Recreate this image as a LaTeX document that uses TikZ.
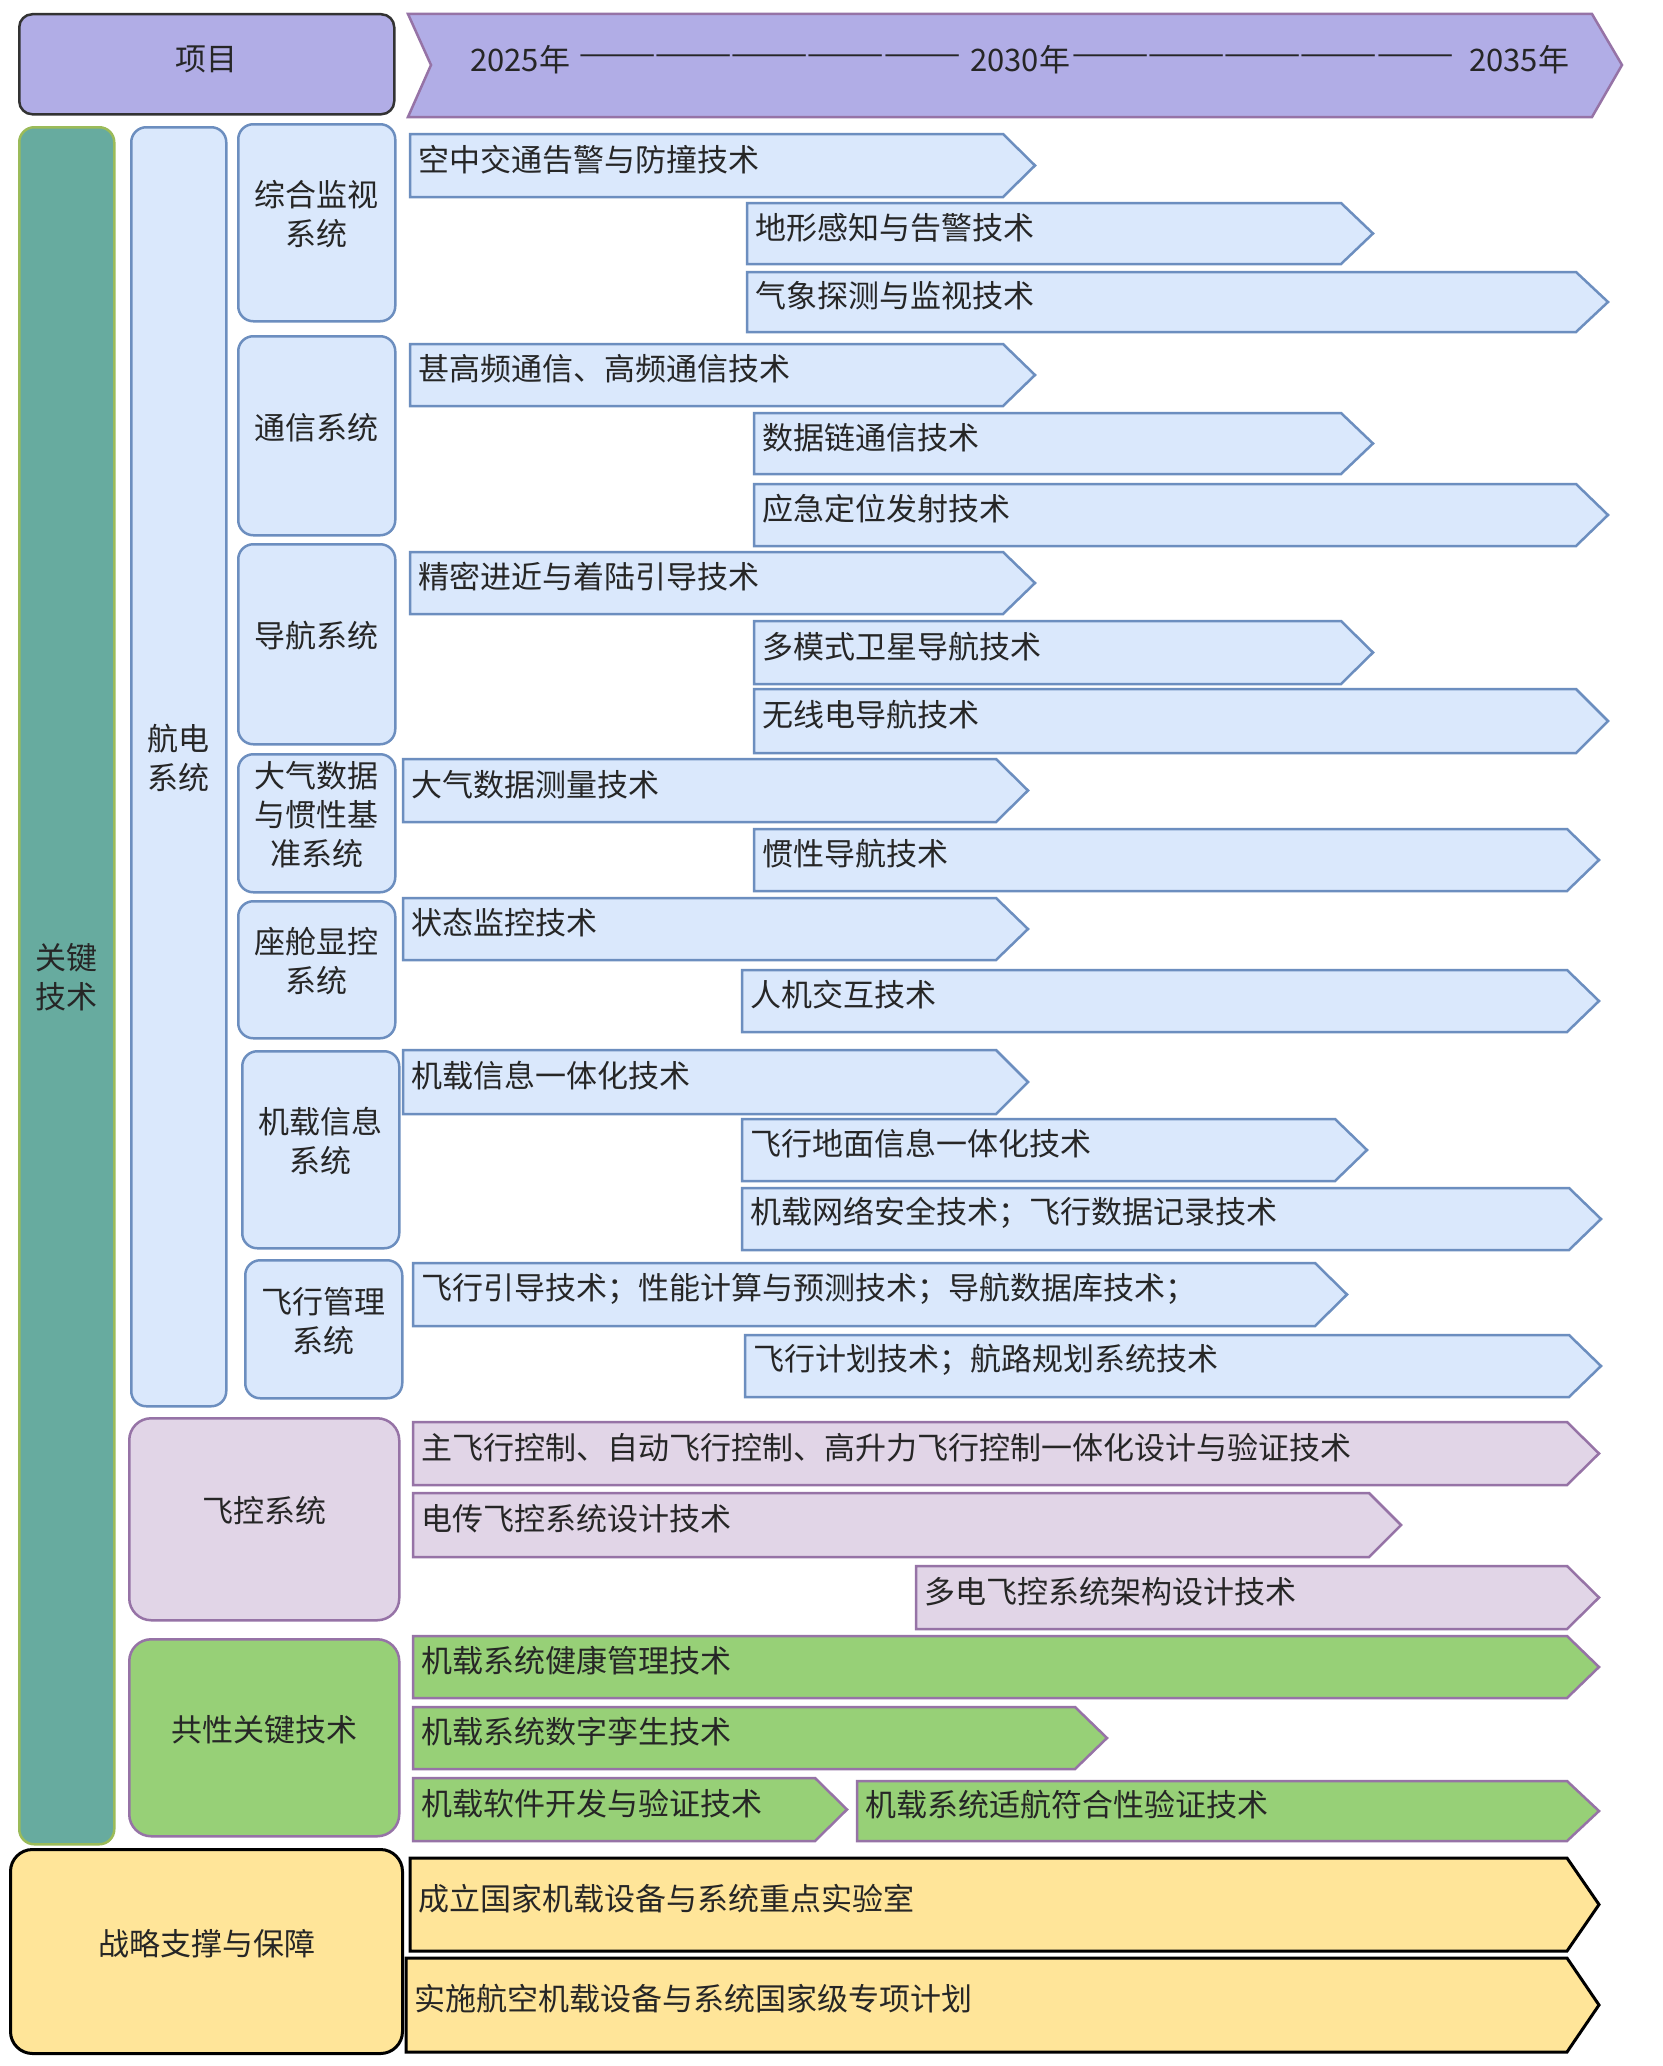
\documentclass[tikz,border=0pt]{standalone}
\usepackage{fontspec}
\setmainfont{Noto Sans CJK SC}
\usepackage{xcolor}

\definecolor{itemfill}{HTML}{B1ADE6}
\definecolor{itemline}{HTML}{333333}
\definecolor{keyfill}{HTML}{67AB9F}
\definecolor{keyline}{HTML}{9BBB59}
\definecolor{bluefill}{HTML}{DAE8FC}
\definecolor{blueline}{HTML}{6C8EBF}
\definecolor{purpfill}{HTML}{E1D5E7}
\definecolor{purpline}{HTML}{9673A6}
\definecolor{greenfill}{HTML}{97D077}
\definecolor{yellowfill}{HTML}{FFE599}

% technology bar: style, name, left x, tip x, top y, bottom y, text
\newcommand{\techbar}[7]{%
  \draw[#1] (#3,#5) -- (#4-32,#5) -- (#4,{(#5+#6)/2}) -- (#4-32,#6) -- (#3,#6) -- cycle;
  \node[techtext] (#2) at (#3+8,{(#5+#6)/2-6}) {#7};
}

\begin{document}
\begin{tikzpicture}[x=1pt, y=-1pt]
    \tikzstyle{box}        = [rectangle, rounded corners=15pt, line width=2.5pt, align=center, anchor=north west, inner sep=0pt, text depth=19pt, text=black!85, font=\fontsize{31}{39}\selectfont]
    \tikzstyle{itembox}    = [box, rounded corners=13pt, text depth=12pt, fill=itemfill, draw=itemline]
    \tikzstyle{keybox}     = [box, fill=keyfill, draw=keyline]
    \tikzstyle{avibox}     = [box, fill=bluefill, draw=blueline]
    \tikzstyle{fcsbox}     = [box, rounded corners=22pt, fill=purpfill, draw=purpline]
    \tikzstyle{commonbox}  = [box, rounded corners=22pt, fill=greenfill, draw=purpline]
    \tikzstyle{supportbox} = [box, rounded corners=22pt, fill=yellowfill, draw=black, line width=3pt]
    \tikzstyle{bluebar}    = [fill=bluefill, draw=blueline, line width=2.5pt]
    \tikzstyle{purpbar}    = [fill=purpfill, draw=purpline, line width=2.5pt]
    \tikzstyle{greenbar}   = [fill=greenfill, draw=purpline, line width=2.5pt]
    \tikzstyle{yellowbar}  = [fill=yellowfill, draw=black, line width=3pt]
    \tikzstyle{techtext}   = [anchor=west, inner sep=0pt, text=black!85, font=\fontsize{31}{39}\selectfont]

    \fill[white] (0,0) rectangle (1662,2066);
    \useasboundingbox (0,0) rectangle (1662,2066);

    % Header
    \node[itembox, minimum width=375pt, minimum height=100pt] (item) at (18,13) {项目};
    \draw[fill=itemfill, draw=purpline, line width=2.5pt] (408,14) -- (1592,14) -- (1622,65) -- (1592,117) -- (408,117) -- (431,65) -- cycle;
    \node[techtext] (y2025) at (470,60) {2025年};
    \node[techtext] (dash1) at (579,60) {———————————————};
    \node[techtext] (y2030) at (970,60) {2030年};
    \node[techtext] (dash2) at (1072,60) {———————————————};
    \node[techtext] (y2035) at (1469,60) {2035年};

    % Left columns
    \node[keybox, minimum width=95pt, minimum height=1717pt] (key) at (18,126) {关键\\技术};
    \node[avibox, minimum width=95pt, minimum height=1279pt] (avionics) at (130,126) {航电\\系统};
    \node[avibox, minimum width=157pt, minimum height=197pt] (surv) at (237,123) {综合监视\\系统};
    \node[avibox, minimum width=157pt, minimum height=199pt] (comm) at (237,335) {通信系统};
    \node[avibox, minimum width=157pt, minimum height=200pt] (nav) at (237,543) {导航系统};
    \node[avibox, minimum width=157pt, minimum height=138pt] (adirs) at (237,753) {大气数据\\与惯性基\\准系统};
    \node[avibox, minimum width=157pt, minimum height=137pt] (cockpit) at (237,900) {座舱显控\\系统};
    \node[avibox, minimum width=157pt, minimum height=197pt] (infosys) at (241,1050) {机载信息\\系统};
    \node[avibox, minimum width=157pt, minimum height=138pt] (fms) at (244,1259) {飞行管理\\系统};
    \node[fcsbox, minimum width=270pt, minimum height=202pt] (fcs) at (128,1417) {飞控系统};
    \node[commonbox, minimum width=270pt, minimum height=197pt] (common) at (128,1638) {共性关键技术};
    \node[supportbox, minimum width=392pt, minimum height=204pt] (support) at (9,1848) {战略支撑与保障};

    % Technology bars
    \techbar{bluebar}{tcas}{410}{1035}{134}{197}{空中交通告警与防撞技术}
    \techbar{bluebar}{taws}{747}{1373}{203}{264}{地形感知与告警技术}
    \techbar{bluebar}{wxr}{747}{1608}{272}{332}{气象探测与监视技术}
    \techbar{bluebar}{vhf}{410}{1035}{344}{406}{甚高频通信、高频通信技术}
    \techbar{bluebar}{dlink}{754}{1373}{413}{474}{数据链通信技术}
    \techbar{bluebar}{elt}{754}{1608}{484}{546}{应急定位发射技术}
    \techbar{bluebar}{gls}{410}{1035}{552}{614}{精密进近与着陆引导技术}
    \techbar{bluebar}{gnss}{754}{1373}{621}{684}{多模式卫星导航技术}
    \techbar{bluebar}{radnav}{754}{1608}{689}{753}{无线电导航技术}
    \techbar{bluebar}{adm}{403}{1028}{759}{822}{大气数据测量技术}
    \techbar{bluebar}{ins}{754}{1599}{829}{891}{惯性导航技术}
    \techbar{bluebar}{mon}{403}{1028}{898}{960}{状态监控技术}
    \techbar{bluebar}{hmi}{742}{1599}{970}{1032}{人机交互技术}
    \techbar{bluebar}{ima}{403}{1028}{1050}{1114}{机载信息一体化技术}
    \techbar{bluebar}{gnd}{742}{1367}{1119}{1181}{飞行地面信息一体化技术}
    \techbar{bluebar}{sec}{742}{1601}{1188}{1250}{机载网络安全技术；飞行数据记录技术}
    \techbar{bluebar}{guid}{413}{1347}{1263}{1326}{飞行引导技术；性能计算与预测技术；导航数据库技术；}
    \techbar{bluebar}{plan}{745}{1601}{1335}{1397}{飞行计划技术；航路规划系统技术}

    \techbar{purpbar}{integ}{413}{1599}{1422}{1485}{主飞行控制、自动飞行控制、高升力飞行控制一体化设计与验证技术}
    \techbar{purpbar}{fbw}{413}{1401}{1493}{1557}{电传飞控系统设计技术}
    \techbar{purpbar}{mea}{916}{1599}{1566}{1629}{多电飞控系统架构设计技术}

    \techbar{greenbar}{phm}{413}{1599}{1636}{1698}{机载系统健康管理技术}
    \techbar{greenbar}{twin}{413}{1107}{1707}{1769}{机载系统数字孪生技术}
    \techbar{greenbar}{swdev}{413}{847}{1778}{1841}{机载软件开发与验证技术}
    \techbar{greenbar}{airw}{857}{1599}{1781}{1841}{机载系统适航符合性验证技术}

    \techbar{yellowbar}{lab}{410}{1599}{1858}{1951}{成立国家机载设备与系统重点实验室}
    \techbar{yellowbar}{prog}{406}{1599}{1958}{2052}{实施航空机载设备与系统国家级专项计划}
\end{tikzpicture}
\end{document}
